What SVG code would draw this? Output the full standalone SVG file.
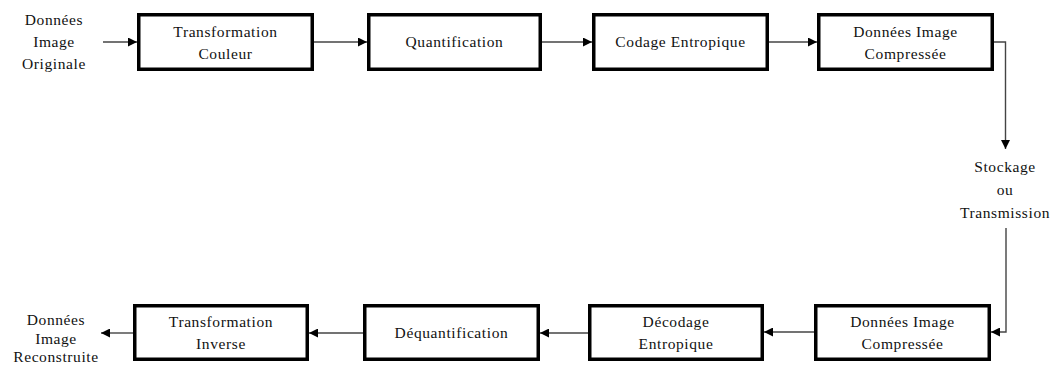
<svg xmlns="http://www.w3.org/2000/svg" width="1054" height="365" viewBox="0 0 1054 365">
<defs>
<style>
.box{fill:#fff;stroke:#000;stroke-width:3.5}
.t{font-size:15.5px;fill:#111;text-anchor:middle;letter-spacing:0.6px}
.c{fill:none;stroke:#444;stroke-width:1.4}
</style>
<marker id="ah" viewBox="0 0 10 10" refX="10" refY="5" markerWidth="9" markerHeight="9" markerUnits="userSpaceOnUse" orient="auto">
<path d="M0,0 L10,5 L0,10 z" fill="#000"/>
</marker>
</defs>
<rect width="1054" height="365" fill="#fff"/>
<g id="connectors">
<line class="c" x1="103" y1="42" x2="137" y2="42" marker-end="url(#ah)"/>
<line class="c" x1="314" y1="42" x2="367" y2="42" marker-end="url(#ah)"/>
<line class="c" x1="542" y1="42" x2="592" y2="42" marker-end="url(#ah)"/>
<line class="c" x1="769" y1="42" x2="817" y2="42" marker-end="url(#ah)"/>
<polyline class="c" points="994,42 1005.5,42 1005.5,149" marker-end="url(#ah)"/>
<polyline class="c" points="1006,228 1006,332 991,332" marker-end="url(#ah)"/>
<line class="c" x1="814" y1="332" x2="764" y2="332" marker-end="url(#ah)"/>
<line class="c" x1="588" y1="333" x2="540" y2="333" marker-end="url(#ah)"/>
<line class="c" x1="363" y1="333" x2="309" y2="333" marker-end="url(#ah)"/>
<line class="c" x1="133" y1="333" x2="101" y2="333" marker-end="url(#ah)"/>
</g>
<g font-family="Liberation Serif, DejaVu Serif, serif">
<g id="input">
<text class="t" x="54" y="25">Données</text>
<text class="t" x="54" y="47">Image</text>
<text class="t" x="54" y="69">Originale</text>
</g>
<g id="transformation-couleur">
<rect class="box" x="138.75" y="14.75" width="173.5" height="54.5"/>
<text class="t" x="225.5" y="37">Transformation</text>
<text class="t" x="225.5" y="59">Couleur</text>
</g>
<g id="quantification">
<rect class="box" x="368.75" y="14.75" width="171.5" height="54.5"/>
<text class="t" x="454.5" y="47">Quantification</text>
</g>
<g id="codage-entropique">
<rect class="box" x="593.75" y="14.75" width="173.5" height="54.5"/>
<text class="t" x="680.5" y="47">Codage Entropique</text>
</g>
<g id="donnees-compressees-1">
<rect class="box" x="818.75" y="14.75" width="173.5" height="54.5"/>
<text class="t" x="905.5" y="37">Données Image</text>
<text class="t" x="905.5" y="59">Compressée</text>
</g>
<g id="stockage">
<text class="t" x="1005" y="172">Stockage</text>
<text class="t" x="1005" y="195">ou</text>
<text class="t" x="1005" y="218">Transmission</text>
</g>
<g id="donnees-compressees-2">
<rect class="box" x="815.75" y="305.75" width="173.5" height="53.5"/>
<text class="t" x="902.5" y="327">Données Image</text>
<text class="t" x="902.5" y="349">Compressée</text>
</g>
<g id="decodage-entropique">
<rect class="box" x="589.75" y="305.75" width="172.5" height="53.5"/>
<text class="t" x="676" y="327">Décodage</text>
<text class="t" x="676" y="349">Entropique</text>
</g>
<g id="dequantification">
<rect class="box" x="364.75" y="305.75" width="173.5" height="53.5"/>
<text class="t" x="451.5" y="338">Déquantification</text>
</g>
<g id="transformation-inverse">
<rect class="box" x="134.75" y="305.75" width="172.5" height="53.5"/>
<text class="t" x="221" y="327">Transformation</text>
<text class="t" x="221" y="349">Inverse</text>
</g>
<g id="output">
<text class="t" x="56" y="325">Données</text>
<text class="t" x="56" y="344">Image</text>
<text class="t" x="56" y="362">Reconstruite</text>
</g>
</g>
</svg>
